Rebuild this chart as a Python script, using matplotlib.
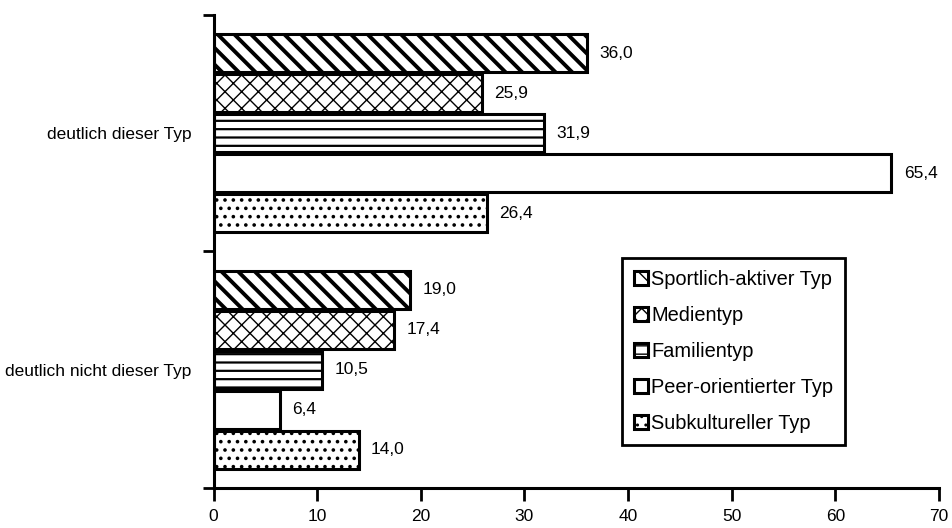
import matplotlib
matplotlib.use("Agg")
import matplotlib.pyplot as plt
from matplotlib.ticker import FixedLocator

plt.rcParams['font.family'] = ['Liberation Sans Narrow', 'Liberation Sans', 'DejaVu Sans']

categories = ["deutlich dieser Typ", "deutlich nicht dieser Typ"]
series_names = ["Sportlich-aktiver Typ", "Medientyp", "Familientyp",
                "Peer-orientierter Typ", "Subkultureller Typ"]
sportlich = [36.0, 19.0]
medien = [25.9, 17.4]
familie = [31.9, 10.5]
peer = [65.4, 6.4]
subkultur = [26.4, 14.0]
x_ticks = [0, 10, 20, 30, 40, 50, 60, 70]

series_values = [sportlich, medien, familie, peer, subkultur]
hatches = ["\\\\", "xx", "--", "", ".."]
hatch_widths = [2.8, 1.0, 1.6, 1.0, 1.4]

fig = plt.figure(figsize=(9.52, 5.28), dpi=100)
ax = fig.add_axes([0.2243, 0.0758, 0.7621, 0.8958])

step = 0.169
height = 0.162
cat_pos = list(range(len(categories)))
handles = []
for i, (name, vals, h, hw) in enumerate(zip(series_names, series_values, hatches, hatch_widths)):
    ys = [c + (i - 2) * step for c in cat_pos]
    with plt.rc_context({'hatch.linewidth': hw, 'hatch.color': 'black'}):
        bars = ax.barh(ys, vals, height=height, color='white', edgecolor='black',
                       linewidth=2.2, hatch=h, label=name)
    for b in bars:
        try:
            b.set_hatch_linewidth(hw)
        except AttributeError:
            pass
    handles.append(bars)
    for y, v in zip(ys, vals):
        ax.text(v + 1.2, y, f"{v:.1f}".replace('.', ','), va='center', ha='left',
                fontsize=12.5)

ax.set_xlim(0, 70)
ax.set_ylim(1.5, -0.5)
ax.set_xticks(x_ticks)
ax.set_xticklabels([str(t) for t in x_ticks], fontsize=12.5)
ax.yaxis.set_major_locator(FixedLocator([-0.5, 0.5, 1.5]))
ax.set_yticklabels([])
ax.yaxis.set_minor_locator(FixedLocator(cat_pos))
ax.set_yticklabels(categories, minor=True, fontsize=12.5)
ax.tick_params(axis='y', which='major', length=8, width=2.0, direction='out')
ax.tick_params(axis='y', which='minor', length=0, pad=16)
ax.tick_params(axis='x', which='major', length=9, width=2.0, direction='out', pad=6)

for s in ['top', 'right']:
    ax.spines[s].set_visible(False)
for s in ['left', 'bottom']:
    ax.spines[s].set_linewidth(2.2)

leg = ax.legend(handles=handles, labels=series_names, loc='upper left',
                bbox_to_anchor=(0.563, 0.486), fontsize=14.4, frameon=True,
                fancybox=False, edgecolor='black', handlelength=0.7,
                handleheight=0.7, handletextpad=0.15, labelspacing=0.85,
                borderpad=0.6, borderaxespad=0)
leg.get_frame().set_linewidth(2.0)
leg.get_frame().set_alpha(1)

fig.savefig("out.png", dpi=100)
